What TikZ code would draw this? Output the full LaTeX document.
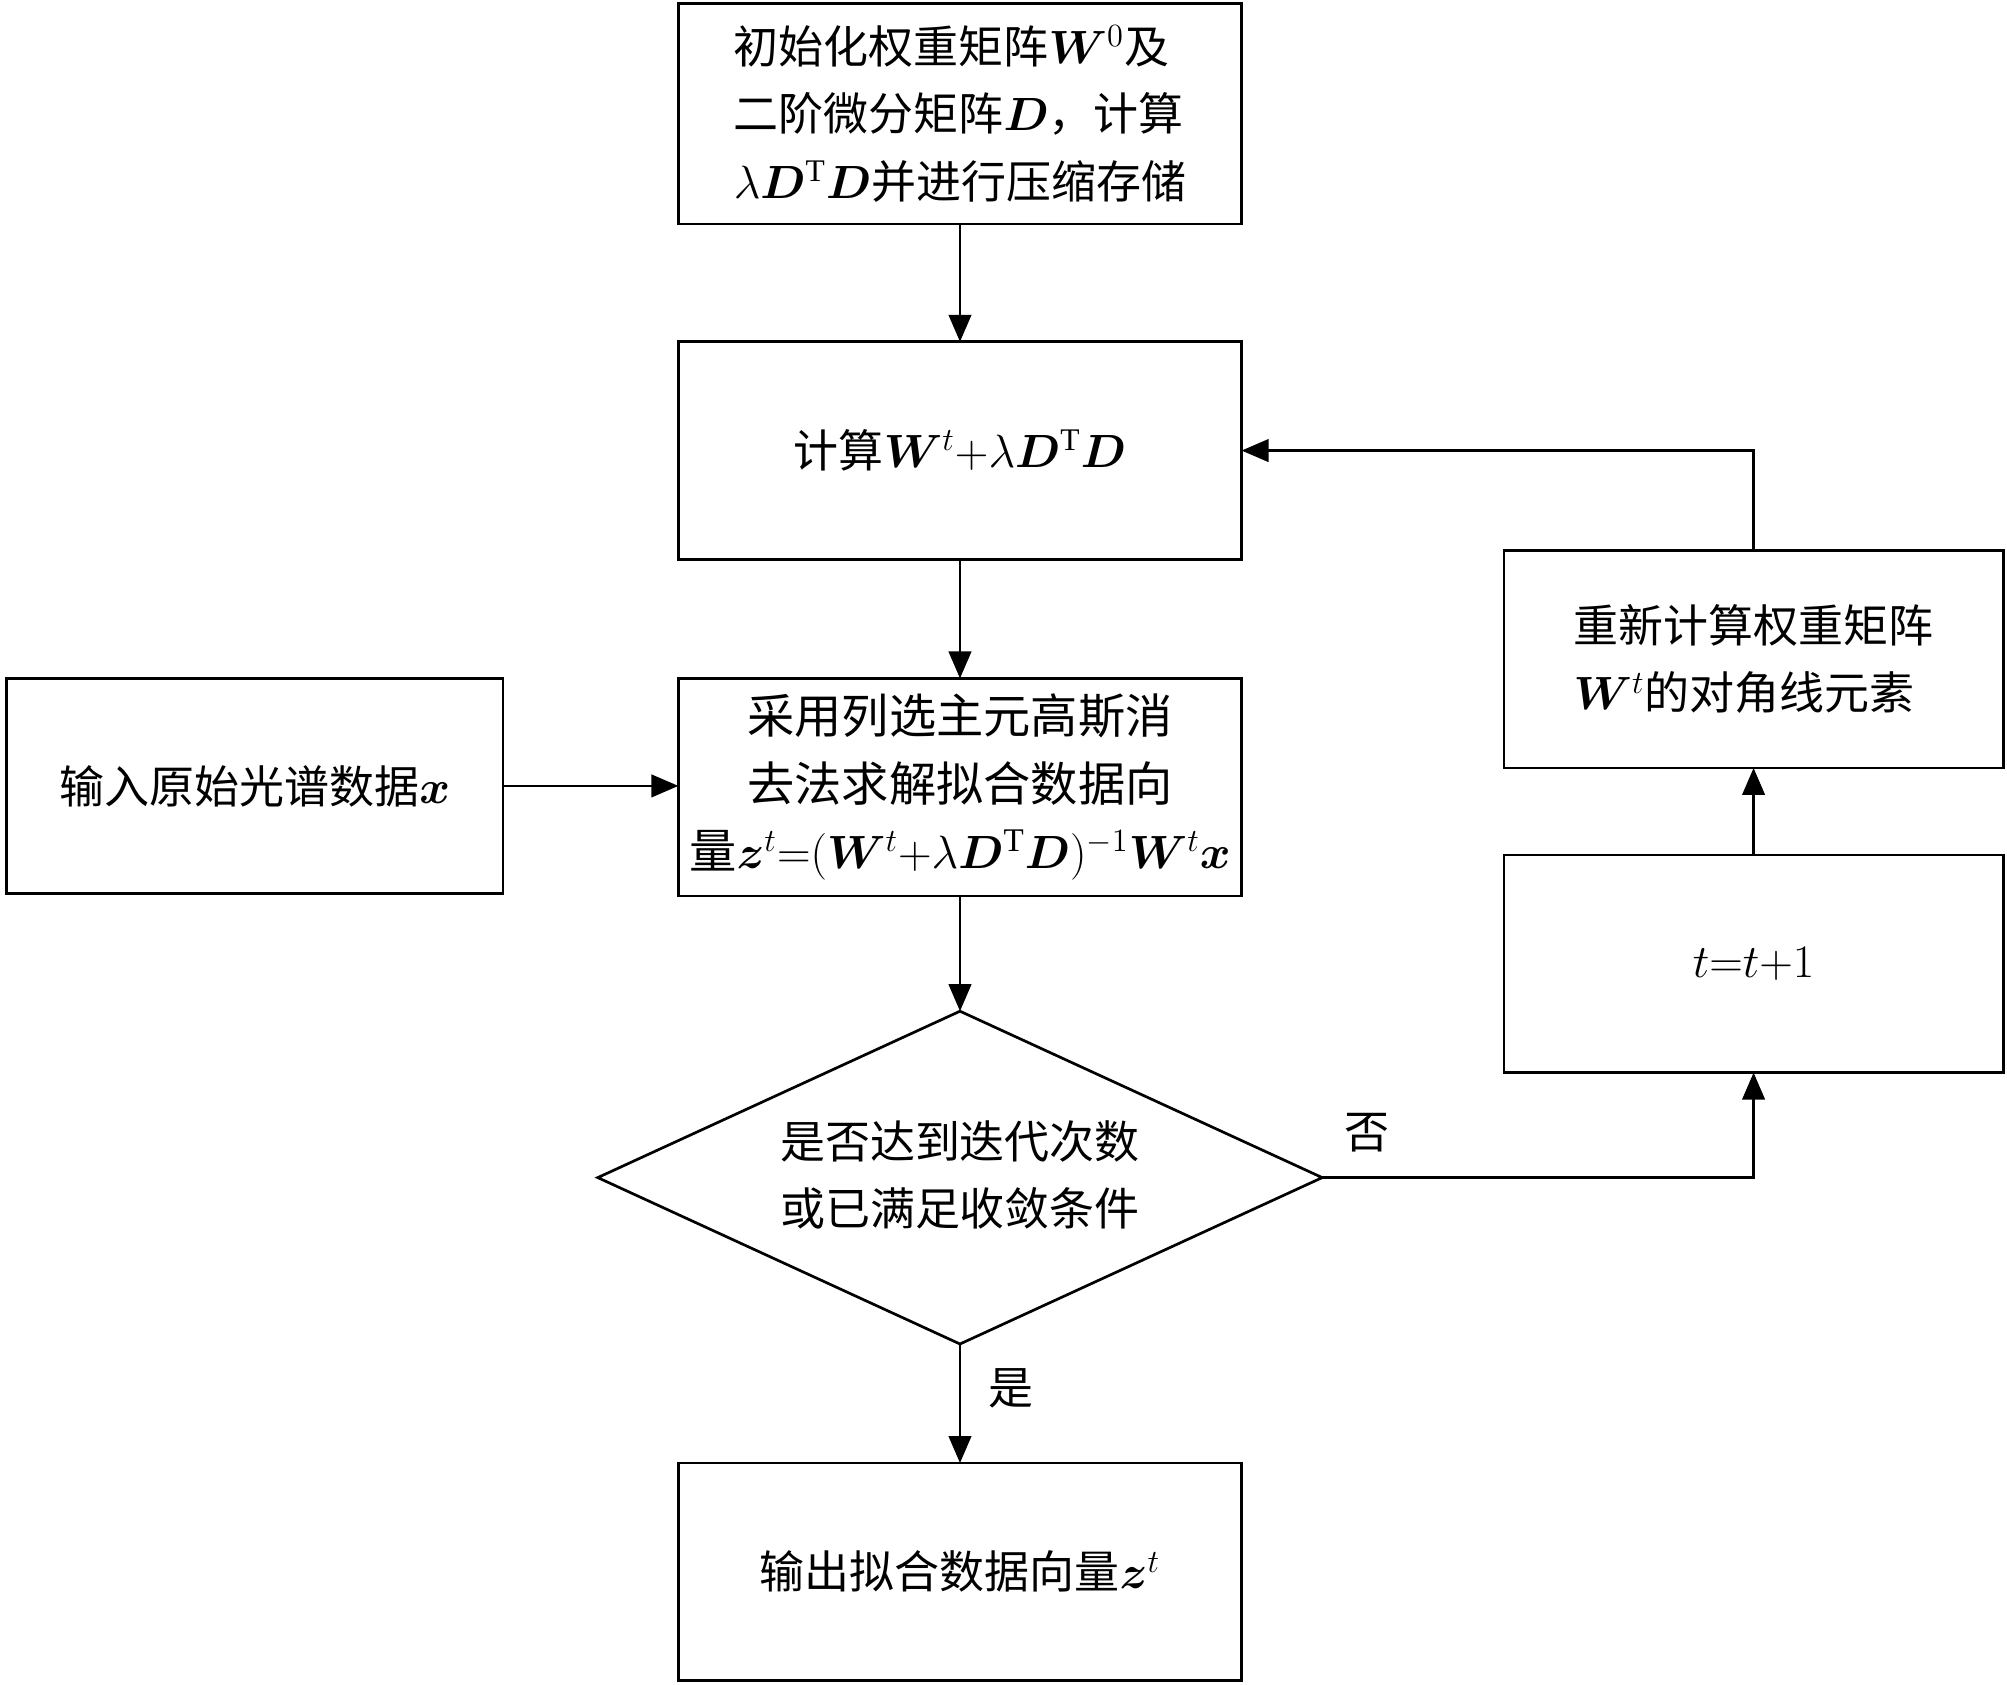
\documentclass[tikz,border=0pt]{standalone}
\usepackage{fontspec}
\usepackage{amsmath,bm}
\setmainfont{Liberation Serif}
\newfontfamily\cjk{Noto Sans CJK SC}
\usetikzlibrary{shapes.geometric,arrows.meta}
\begin{document}
\begin{tikzpicture}[x=0.02cm,y=-0.02cm,
  txt/.style={font=\fontsize{20}{30}\selectfont\cjk,align=center},
  arr/.style={line width=1.2pt,-{Triangle[length=12pt,width=10pt]}}]
\useasboundingbox (0,0) rectangle (1568,1316);
\draw[line width=1.2pt] (530,3) rectangle (970,175);
\node (b1) [txt,align=left] at (750,89) {初始化权重矩阵$\bm{W}^{0}$及\\二阶微分矩阵$\bm{D}$，计算\\$\lambda\bm{D}^{\mathrm{T}}\bm{D}$并进行压缩存储};
\draw[line width=1.2pt] (530,267) rectangle (970,437);
\node (b2) [txt] at (750,352) {计算$\bm{W}^{t}{+}\lambda\bm{D}^{\mathrm{T}}\bm{D}$};
\draw[line width=1.2pt] (530,530) rectangle (970,700);
\node (b3) [txt,font=\fontsize{21}{30}\selectfont\cjk] at (750,615) {采用列选主元高斯消\\去法求解拟合数据向\\量$\bm{z}^{t}{=}(\bm{W}^{t}{+}\lambda\bm{D}^{\mathrm{T}}\bm{D})^{-1}\bm{W}^{t}\bm{x}$};
\draw[line width=1.2pt] (5,530) rectangle (393,698);
\node (in) [txt] at (199,614) {输入原始光谱数据$\bm{x}$};
\draw[line width=1.2pt] (750,790)--(1033,920)--(750,1050)--(467,920)--cycle;
\node (dia) [txt] at (750,918) {是否达到迭代次数\\或已满足收敛条件};
\draw[line width=1.2pt] (530,1143) rectangle (970,1313);
\node (out) [txt] at (750,1228) {输出拟合数据向量$\bm{z}^{t}$};
\draw[line width=1.2pt] (1175,668) rectangle (1565,838);
\node (tt) [txt] at (1370,753) {$t{=}t{+}1$};
\draw[line width=1.2pt] (1175,430) rectangle (1565,600);
\node (rc) [txt,align=left] at (1370,515) {重新计算权重矩阵\\$\bm{W}^{t}$的对角线元素};
\coordinate (p1) at (750,175); \coordinate (p2) at (750,267);
\coordinate (p3) at (750,437); \coordinate (p4) at (750,530);
\coordinate (p5) at (750,700); \coordinate (p6) at (750,790);
\coordinate (p7) at (750,1050); \coordinate (p8) at (750,1143);
\coordinate (q1) at (393,614); \coordinate (q2) at (530,614);
\coordinate (r1) at (1033,920); \coordinate (r2) at (1370,838);
\coordinate (r3) at (1370,668); \coordinate (r4) at (1370,600);
\coordinate (r5) at (1370,430); \coordinate (r6) at (970,352);
\draw[arr] (p1)--(p2);
\draw[arr] (p3)--(p4);
\draw[arr] (p5)--(p6);
\draw[arr] (p7)--(p8);
\draw[arr] (q1)--(q2);
\draw[arr] (r1)-|(r2);
\draw[arr] (r3)--(r4);
\draw[arr] (r5)|-(r6);
\node[txt] at (1068,885) {否};
\node[txt] at (790,1085) {是};
\end{tikzpicture}
\end{document}
